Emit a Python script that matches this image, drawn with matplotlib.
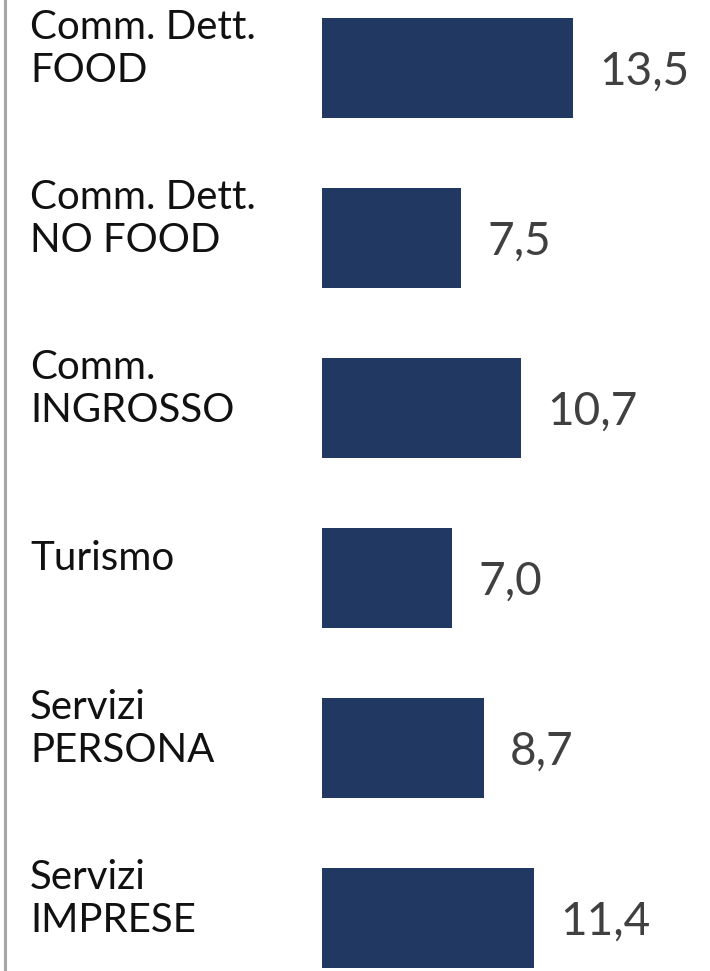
import matplotlib.pyplot as plt
from matplotlib import transforms

categories = ["Comm. Dett.\nFOOD", "Comm. Dett.\nNO FOOD", "Comm.\nINGROSSO",
              "Turismo", "Servizi\nPERSONA", "Servizi\nIMPRESE"]
values = [13.5, 7.5, 10.7, 7.0, 8.7, 11.4]
value_labels = ["13,5", "7,5", "10,7", "7,0", "8,7", "11,4"]

plt.rcParams['font.family'] = ['Lato', 'DejaVu Sans']

fig = plt.figure(figsize=(7.1, 9.71), dpi=100)
ax = fig.add_axes([0, 0, 1, 1])

pos = list(range(len(values)))
ax.barh(pos, values, height=0.594, color='#213862', left=0)

# pixel scale: 18.6 px per unit, bars start at x=322px
ax.set_xlim(-322 / 18.6, (710 - 322) / 18.6)
ax.set_ylim((971 - 68) / 170, -68 / 170)
ax.axis('off')

# gray line on the left
ax.axvline(-317 / 18.6, color='#a6a6a6', lw=2.2)

lab_tr = transforms.blended_transform_factory(ax.transAxes, ax.transData)
for i, (c, v, t) in enumerate(zip(categories, values, value_labels)):
    ax.text(30 / 710, i - 19 / 170, c, transform=lab_tr, ha='left', va='center',
            fontsize=29, color='#111111', linespacing=1.2)
    ax.text(v + 26 / 18.6, i + 4 / 170, t, ha='left', va='center',
            fontsize=33, color='#404040')

fig.savefig('out.png', dpi=100)
